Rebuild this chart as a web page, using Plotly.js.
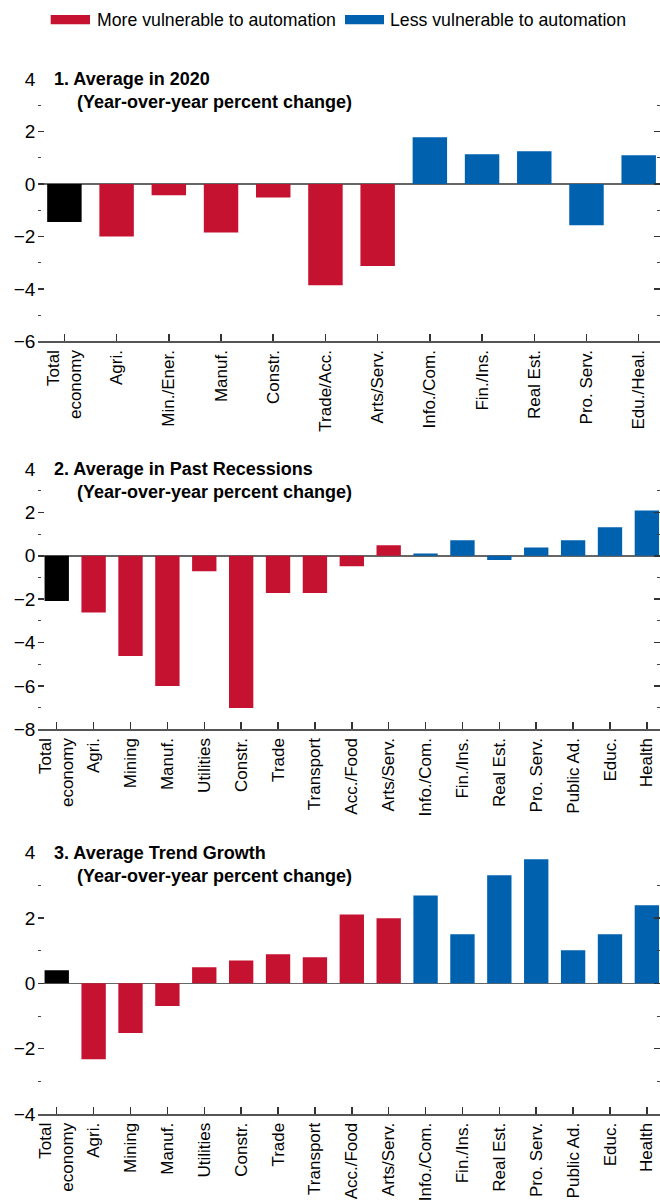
<!DOCTYPE html>
<html><head><meta charset="utf-8">
<script src="https://cdn.plot.ly/plotly-3.0.1.min.js"></script>
<style>html,body{margin:0;padding:0;background:#fff}</style>
</head><body><div id="chart" style="width:660px;height:1202px"></div>
<script>
// ---- data ----
const legendLabels = ['More vulnerable to automation', 'Less vulnerable to automation'];
const panelTitles = ['1. Average in 2020', '2. Average in Past Recessions', '3. Average Trend Growth'];
const panelSubtitle = '(Year-over-year percent change)';

const sectors2020 = ['Total<br>economy','Agri.','Min./Ener.','Manuf.','Constr.','Trade/Acc.','Arts/Serv.','Info./Com.','Fin./Ins.','Real Est.','Pro. Serv.','Edu./Heal.'];
const groups2020 = ['total','more','more','more','more','more','more','less','less','less','less','less'];
const values2020 = [-1.45,-2.0,-0.43,-1.85,-0.51,-3.86,-3.13,1.79,1.14,1.25,-1.57,1.10];

const sectorsDetail = ['Total<br>economy','Agri.','Mining','Manuf.','Utilities','Constr.','Trade','Transport','Acc./Food','Arts/Serv.','Info./Com.','Fin./Ins.','Real Est.','Pro. Serv.','Public Ad.','Educ.','Health'];
const groupsDetail = ['total','more','more','more','more','more','more','more','more','more','less','less','less','less','less','less','less'];
const valuesRecessions = [-2.09,-2.61,-4.62,-6.0,-0.71,-7.02,-1.72,-1.72,-0.48,0.48,0.11,0.71,-0.2,0.38,0.71,1.31,2.09];
const valuesTrend = [0.40,-2.32,-1.52,-0.69,0.49,0.70,0.89,0.80,2.11,1.99,2.69,1.50,3.31,3.80,1.01,1.50,2.39];

const yRange1 = [-6, 4];
const yRange2 = [-8, 4];
const yRange3 = [-4, 4];

// ---- styling ----
const W = 660, H = 1202;
const groupColors = {total: '#000000', more: '#C41230', less: '#0061AF'};
const FONT = 'Liberation Sans, Arial, sans-serif';

// use a narrow face for the category labels when it is installed
function hasFont(name) {
  const c = document.createElement('canvas').getContext('2d');
  c.font = '20px monospace';
  const a = c.measureText('Manuf. Transport').width;
  c.font = '20px "' + name + '", monospace';
  return c.measureText('Manuf. Transport').width !== a;
}
const narrowOK = hasFont('Liberation Sans Narrow');
const CAT_FONT = narrowOK ? {family: '"Liberation Sans Narrow", sans-serif', size: 20.5, color: '#000'}
                          : {family: FONT, size: 17, color: '#000'};

const px = v => v / W;
const py = v => 1 - v / H;

function barTrace(cats, vals, groups, xa, ya) {
  return {
    type: 'bar', x: cats, y: vals, xaxis: xa, yaxis: ya,
    marker: {color: groups.map(g => groupColors[g]), line: {width: 0}},
    width: 0.66, showlegend: false, hoverinfo: 'x+y'
  };
}

const data = [
  barTrace(sectors2020, values2020, groups2020, 'x', 'y'),
  barTrace(sectorsDetail, valuesRecessions, groupsDetail, 'x2', 'y2'),
  barTrace(sectorsDetail, valuesTrend, groupsDetail, 'x3', 'y3')
];

function xAxis(anchor, nCatsEnd) {
  return {
    anchor: anchor, domain: [px(38.3), 1], range: [-0.5, nCatsEnd],
    type: 'category', showline: true, linecolor: '#555', linewidth: 2,
    ticks: 'inside', ticklen: 7, tickwidth: 1.5, tickcolor: '#333',
    tickangle: -90, showgrid: false, zeroline: false, automargin: false,
    tickfont: CAT_FONT
  };
}
function yAxis(anchor, domain, range) {
  return {
    anchor: anchor, domain: domain, range: range, dtick: 2, tick0: 0,
    showline: false, showgrid: false, mirror: 'ticks',
    ticks: 'inside', ticklen: 6, tickwidth: 1.5, tickcolor: '#333',
    minor: {dtick: 1, ticks: 'inside', ticklen: 3, tickwidth: 1, tickcolor: '#444', showgrid: false},
    zeroline: true, zerolinecolor: '#666', zerolinewidth: 1.5, ticklabelstandoff: 2,
    automargin: false, tickfont: {family: FONT, size: 19, color: '#000'}
  };
}

const titleTops = [79.3, 469, 852.7];
const annotations = [];
panelTitles.forEach((t, i) => {
  annotations.push({xref: 'paper', yref: 'paper', x: px(52), y: py(titleTops[i]), xanchor: 'left', yanchor: 'middle',
    text: '<b>' + t + '</b>', showarrow: false, font: {family: FONT, size: 18, color: '#000'}});
  annotations.push({xref: 'paper', yref: 'paper', x: px(74.5), y: py(titleTops[i] + 23), xanchor: 'left', yanchor: 'middle',
    text: '<b>' + panelSubtitle + '</b>', showarrow: false, font: {family: FONT, size: 18, color: '#000'}});
});
annotations.push({xref: 'paper', yref: 'paper', x: px(94.5), y: py(20.5), xanchor: 'left', yanchor: 'middle',
  text: legendLabels[0], showarrow: false, font: {family: FONT, size: 17.7, color: '#000'}});
annotations.push({xref: 'paper', yref: 'paper', x: px(388), y: py(20.5), xanchor: 'left', yanchor: 'middle',
  text: legendLabels[1], showarrow: false, font: {family: FONT, size: 17.7, color: '#000'}});

const shapes = [
  {type: 'rect', xref: 'paper', yref: 'paper', x0: px(50.7), x1: px(90), y0: py(24.3), y1: py(15), fillcolor: groupColors.more, line: {width: 0}},
  {type: 'rect', xref: 'paper', yref: 'paper', x0: px(345), x1: px(384), y0: py(24.3), y1: py(15), fillcolor: groupColors.less, line: {width: 0}}
];

const layout = {
  width: W, height: H, margin: {l: 0, r: 0, t: 0, b: 0},
  paper_bgcolor: '#fff', plot_bgcolor: '#fff',
  showlegend: false, barmode: 'overlay', bargap: 0.34,
  font: {family: FONT, color: '#000'},
  xaxis: xAxis('y', 11.408),
  yaxis: yAxis('x', [py(341.3), py(79.3)], yRange1),
  xaxis2: xAxis('y2', 16.356),
  yaxis2: yAxis('x2', [py(729.3), py(469)], yRange2),
  xaxis3: xAxis('y3', 16.356),
  yaxis3: yAxis('x3', [py(1114), py(852.7)], yRange3),
  annotations: annotations, shapes: shapes
};

Plotly.newPlot('chart', data, layout, {displayModeBar: false, staticPlot: true});
</script></body></html>
